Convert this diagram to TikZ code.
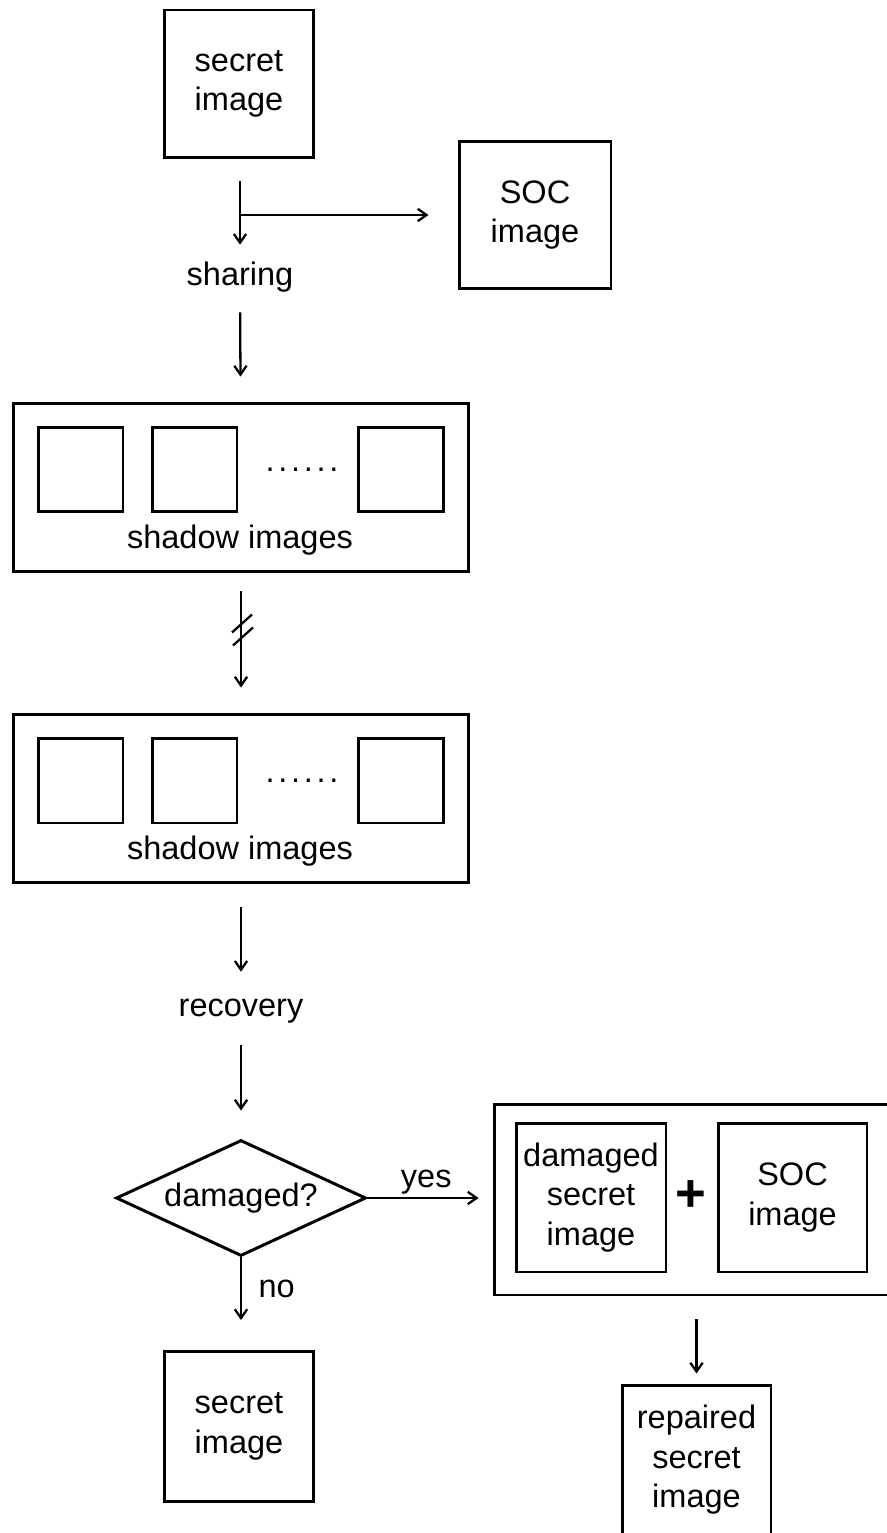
\documentclass[tikz,border=0pt]{standalone}
\usepackage{fontspec}
\setmainfont{Liberation Sans}
\usetikzlibrary{shapes.geometric, arrows.meta}

\newcommand{\tiledots}{.\kern2.1pt.\kern2.1pt.\kern2.1pt.\kern2.1pt.\kern2.1pt.}

\begin{document}
\begin{tikzpicture}[x=0.02cm, y=-0.02cm]
    % Styles
    \tikzstyle{imgbox} = [rectangle, draw=black, line width=1.7pt, minimum width=3cm, minimum height=2.96cm, align=center, inner sep=0pt, font=\fontsize{18.5}{22.5}\selectfont]
    \tikzstyle{tile} = [rectangle, draw=black, line width=1.7pt, minimum size=1.7cm]
    \tikzstyle{group} = [rectangle, draw=black, line width=1.7pt]
    \tikzstyle{txt} = [font=\fontsize{18.5}{22.5}\selectfont, inner sep=0pt, text height=13pt, text depth=4pt]
    \tikzstyle{decision} = [diamond, shape aspect=2.155, draw=black, line width=1.7pt, minimum width=5cm, minimum height=2.32cm, inner sep=0pt, font=\fontsize{18.5}{22.5}\selectfont]
    \tikzstyle{arrow} = [-{Straight Barb[length=5pt, width=7pt]}, line width=1.3pt]

    \useasboundingbox (0,0) rectangle (886,1533);

    % Sharing part
    \node[imgbox] (secret) at (239,84) {secret\\image};
    \node[imgbox, minimum width=3.04cm] (soc) at (535,215) {SOC\\image};
    \node[txt] (sharing) at (240,278) {sharing};

    \node[group, minimum width=9.12cm, minimum height=3.38cm] (shadowA) at (241,487.5) {};
    \node[tile] (tileA1) at (80.5,469.5) {};
    \node[tile] (tileA2) at (194.5,469.5) {};
    \node[tile] (tileA3) at (401,469.5) {};
    \node[txt] (dotsA) at (302,464) {\tiledots};
    \node[txt] (nameA) at (240,541) {shadow images};

    \node[group, minimum width=9.12cm, minimum height=3.38cm] (shadowB) at (241,798.5) {};
    \node[tile] (tileB1) at (80.5,780.5) {};
    \node[tile] (tileB2) at (194.5,780.5) {};
    \node[tile] (tileB3) at (401,780.5) {};
    \node[txt] (dotsB) at (302,775) {\tiledots};
    \node[txt] (nameB) at (240,852) {shadow images};

    % Recovery part
    \node[txt] (recovery) at (241,1009) {recovery};
    \node[decision] (check) at (241,1198) {damaged?};

    \node[group, minimum width=7.92cm, minimum height=3.82cm] (repairset) at (692,1199.5) {};
    \node[imgbox, minimum height=2.98cm] (damaged) at (591,1197.5) {damaged\\secret\\image};
    \node[font=\fontsize{30}{30}\selectfont\bfseries, inner sep=0pt] (plus) at (691,1196) {+};
    \node[imgbox, minimum width=2.98cm, minimum height=2.98cm] (soc2) at (792.5,1197.5) {SOC\\image};

    \node[imgbox, minimum width=2.98cm, minimum height=3cm] (result) at (239,1426.5) {secret\\image};
    \node[imgbox, minimum width=2.98cm, minimum height=3cm] (repaired) at (696.5,1460) {repaired\\secret\\image};

    % Arrows
    \coordinate (fork) at (sharing |- soc.west);
    \draw[arrow, shorten <=0.44cm, shorten >=0.36cm] (secret.south -| sharing) -- (sharing);
    \draw[arrow, shorten >=0.58cm] (fork) -- (fork -| soc.west);
    \draw[arrow, shorten <=0.38cm, shorten >=0.5cm] (sharing) -- (shadowA);

    \draw[arrow, shorten <=0.36cm, shorten >=0.5cm] (shadowA) -- (shadowB);
    \coordinate (cut) at (241,629.5);
    \draw[line width=1.3pt] (cut) ++(-9,3) -- ++(20,-18);
    \draw[line width=1.3pt] (cut) ++(-8,16) -- ++(20,-18);

    \draw[arrow, shorten <=0.46cm, shorten >=0.44cm] (shadowB) -- (recovery);
    \draw[arrow, shorten <=0.42cm, shorten >=0.56cm] (recovery) -- (check);

    \draw[arrow, shorten >=0.28cm] (check.east) -- node[txt, pos=0.47, yshift=0.36cm] {yes} (check.east -| repairset.west);
    \draw[arrow, shorten >=0.6cm] (check.south) -- node[txt, pos=0.35, anchor=west, xshift=0.33cm] {no} (check.south |- result.north);
    \draw[arrow, shorten <=0.46cm, shorten >=0.2cm] (repairset.south -| repaired.north) -- (repaired.north);
\end{tikzpicture}
\end{document}
